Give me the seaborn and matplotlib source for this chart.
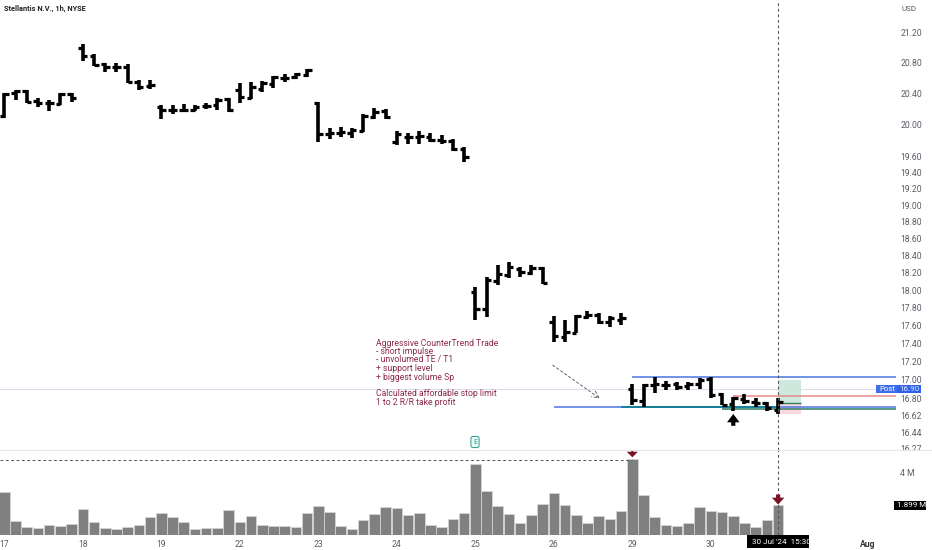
import numpy as np
import pandas as pd
import seaborn as sns
import matplotlib
matplotlib.use("Agg")
import matplotlib.pyplot as plt
from matplotlib.lines import Line2D
from matplotlib.patches import Rectangle

# hourly bars, 17 Jul - 30 Jul 2024
opens = [20.11, 20.40, 20.43, 20.30, 20.28, 20.26, 20.39,
         20.995, 20.89, 20.78, 20.74, 20.75, 20.55, 20.50,
         20.23, 20.19, 20.185, 20.185, 20.235, 20.25, 20.325,
         20.445, 20.345, 20.455, 20.52, 20.605, 20.61, 20.64,
         20.27, 19.88, 19.89, 19.89, 19.92, 20.10, 20.17,
         19.78, 19.845, 19.84, 19.845, 19.81, 19.79, 19.69,
         17.975, 17.79, 18.10, 18.175, 18.24, 18.20, 18.26,
         17.64, 17.475, 17.52, 17.69, 17.72, 17.64, 17.665,
         16.90, 16.775, 16.945, 16.945, 16.955, 16.93, 16.955,
         17.005, 16.845, 16.74, 16.79, 16.765, 16.75, 16.68]
highs = [20.40, 20.445, 20.445, 20.34, 20.31, 20.41, 20.40,
         21.05, 20.915, 20.80, 20.80, 20.78, 20.575, 20.575,
         20.25, 20.25, 20.26, 20.25, 20.28, 20.34, 20.34,
         20.53, 20.55, 20.565, 20.63, 20.65, 20.67, 20.72,
         20.29, 19.96, 19.97, 19.96, 20.13, 20.215, 20.195,
         19.92, 19.89, 19.92, 19.89, 19.87, 19.815, 19.71,
         18.03, 18.15, 18.29, 18.33, 18.265, 18.285, 18.27,
         17.71, 17.66, 17.72, 17.76, 17.74, 17.70, 17.735,
         16.955, 16.96, 17.03, 16.99, 16.975, 16.98, 17.025,
         17.03, 16.86, 16.82, 16.845, 16.80, 16.765, 16.80]
lows = [20.08, 20.31, 20.28, 20.23, 20.17, 20.25, 20.285,
        20.83, 20.76, 20.68, 20.68, 20.53, 20.445, 20.455,
        20.07, 20.14, 20.16, 20.17, 20.20, 20.19, 20.16,
        20.27, 20.33, 20.42, 20.475, 20.545, 20.585, 20.61,
        19.775, 19.815, 19.845, 19.83, 19.90, 20.065, 20.065,
        19.74, 19.75, 19.76, 19.775, 19.755, 19.665, 19.53,
        17.66, 17.69, 18.06, 18.14, 18.155, 18.175, 18.07,
        17.42, 17.41, 17.51, 17.67, 17.62, 17.58, 17.60,
        16.73, 16.705, 16.86, 16.89, 16.89, 16.89, 16.90,
        16.81, 16.725, 16.67, 16.74, 16.71, 16.67, 16.635]
closes = [20.39, 20.43, 20.29, 20.27, 20.27, 20.39, 20.34,
          20.89, 20.77, 20.74, 20.74, 20.55, 20.49, 20.51,
          20.185, 20.185, 20.19, 20.23, 20.235, 20.315, 20.18,
          20.36, 20.48, 20.53, 20.61, 20.605, 20.65, 20.70,
          19.88, 19.89, 19.90, 19.93, 20.11, 20.155, 20.09,
          19.88, 19.845, 19.855, 19.81, 19.79, 19.69, 19.595,
          17.79, 18.116, 18.19, 18.27, 18.21, 18.25, 18.085,
          17.48, 17.53, 17.70, 17.72, 17.64, 17.68, 17.68,
          16.785, 16.945, 16.955, 16.945, 16.925, 16.96, 16.998,
          16.84, 16.73, 16.80, 16.775, 16.755, 16.70, 16.76]
volumes = [2.77, .90, .49, .43, .62, .60, .68,
           1.64, .83, .47, .38, .49, .64, 1.13,
           1.43, 1.15, .85, .36, .47, .47, 1.58,
           .85, 1.24, .64, .58, .58, .53, 1.39,
           1.88, 1.45, .58, .41, .94, 1.36, 1.77,
           1.75, 1.28, 1.39, .64, .51, 1.02, 1.39,
           4.52, 2.81, 1.88, 1.32, .79, 1.30, 1.96,
           2.67, 1.90, 1.28, .79, 1.24, 1.04, 1.54,
           4.90, 2.56, 1.13, .64, .60, .77, 1.79,
           1.51, 1.45, 1.19, .77, .49, .94, 1.899]

price_ticks = [21.20, 20.80, 20.40, 20.00, 19.60, 19.40, 19.20, 19.00, 18.80, 18.60, 18.40,
               18.20, 18.00, 17.80, 17.60, 17.40, 17.20, 17.00, 16.80, 16.62, 16.44, 16.27]
day_ticks = [0, 7, 14, 21, 28, 35, 42, 49, 56, 63, 77]
day_labels = ["17", "18", "19", "22", "23", "24", "25", "26", "29", "30", "Aug"]

# drawn levels: price, first bar, colour
level_prices = [17.03, 16.71, 16.83, 16.685]
level_starts = [56, 49, 65, 64]
level_colors = ["#4a74e4", "#4a74e4", "#e58a8a", "#2f7d5f"]

notes = ["Aggressive CounterTrend Trade", "- short impulse", "- unvolumed TE / T1",
         "+ support level", "+ biggest volume Sp", "Calculated affordable stop limit",
         "1 to 2 R/R take profit"]
note_rows = [343, 351.5, 360, 368.5, 377, 394, 402.5]

sns.set_theme(style="white")
plt.rcParams['font.family'] = ['Roboto', 'DejaVu Sans']

W, H = 932, 550
fig = plt.figure(figsize=(W / 100, H / 100), dpi=100)
ax = fig.add_axes([0, 1 - 449.5 / H, 896 / W, 449.5 / H])
vol_ax = fig.add_axes([0, 1 - 535 / H, 896 / W, 85 / H])

df = pd.DataFrame({"bar": np.arange(len(volumes)), "open": opens, "high": highs,
                   "low": lows, "close": closes, "volume": volumes})

# price pane
xlim = (-0.383, 79.51)
ax.set_yscale("log")
ax.axhline(16.90, color="#dcdff0", lw=0.8, zorder=1)
ax.add_patch(Rectangle((69, 16.75), 2.04, 17.0 - 16.75, color="#cfe8de", lw=0, zorder=1))
ax.add_patch(Rectangle((69, 16.63), 2.04, 16.75 - 16.63, color="#f8d8dd", lw=0, zorder=1))
for p, s, c in zip(level_prices, level_starts, level_colors):
    ax.hlines(p, s, xlim[1], color=c, lw=1.1, zorder=2)
ax.hlines(16.71, 55, 69, color="#12808f", lw=1.3, zorder=2)
ax.hlines(16.75, 69, 71.04, color="#2f7d5f", lw=1.0, zorder=2)

ax.vlines(df["bar"], df["low"], df["high"], color="black", lw=2.6, zorder=3)
ax.hlines(df["open"], df["bar"] - 0.4, df["bar"], color="black", lw=2.3, zorder=3)
ax.hlines(df["close"], df["bar"], df["bar"] + 0.4, color="black", lw=2.3, zorder=3)
ax.axvline(69, color="#555555", lw=0.8, ls=(0, (2.5, 2.5)), zorder=4)

ax.annotate("", xy=(65, 16.635), xytext=(65, 16.51),
            arrowprops=dict(facecolor="black", edgecolor="none", width=3, headwidth=9, headlength=6, shrink=0))
ax.annotate("", xy=(53.1, 16.80), xytext=(48.9, 17.16),
            arrowprops=dict(arrowstyle="->", color="#666666", lw=0.7, ls=(0, (2.5, 2.5)), shrinkA=0, shrinkB=0))

ax.set_xlim(xlim)
ax.set_ylim(16.263, 21.65)
ax.yaxis.tick_right()
ax.set_yticks(price_ticks)
ax.set_yticklabels([f"{t:.2f}" for t in price_ticks])
ax.minorticks_off()
ax.tick_params(axis="y", length=0, pad=3, labelsize=6.2, labelcolor="#5a5d66")
ax.set_xticks([])
ax.set_xlabel("")
sns.despine(ax=ax, left=True, bottom=True, right=True, top=True)

# volume pane
sns.barplot(data=df, x="bar", y="volume", ax=vol_ax, native_scale=True, color="#808080",
            saturation=1, width=0.94, edgecolor="#d8d8d8", linewidth=0.5)
vol_ax.hlines(4.82, xlim[0], 56, color="#555555", lw=0.7, ls=(0, (3, 2.5)))
vol_ax.axvline(69, color="#555555", lw=0.8, ls=(0, (2.5, 2.5)), zorder=5)
for tip, tail, w, hw, hl in [(4.98, 5.44, 1.5, 8, 4), (1.95, 2.6, 3, 9, 5)]:
    x = 56 if tip > 4 else 69
    vol_ax.annotate("", xy=(x, tip), xytext=(x, tail),
                    arrowprops=dict(facecolor="#7a1226", edgecolor="none", width=w, headwidth=hw,
                                    headlength=hl, shrink=0), zorder=6)
vol_ax.set_xlim(xlim)
vol_ax.set_ylim(0, 5.449)
vol_ax.yaxis.tick_right()
vol_ax.set_yticks([4])
vol_ax.set_yticklabels(["4 M"])
vol_ax.set_xticks(day_ticks)
vol_ax.set_xticklabels(day_labels)
vol_ax.tick_params(axis="y", length=0, pad=3, labelsize=6.2, labelcolor="#5a5d66")
vol_ax.tick_params(axis="x", length=0, pad=3.5, labelsize=6.2, labelcolor="#5a5d66")
vol_ax.get_xticklabels()[-1].set_fontweight("bold")
vol_ax.get_xticklabels()[-1].set_color("#333333")
vol_ax.set_xlabel("")
vol_ax.set_ylabel("")
vol_ax.patch.set_alpha(0)
sns.despine(ax=vol_ax, left=True, bottom=True, right=True, top=True)


def label(x, y, s, **kw):
    fig.text(x / W, 1 - y / H, s, va="center", zorder=4, **kw)


def box(x0, y0, x1, y1, color):
    fig.add_artist(Rectangle((x0 / W, 1 - y1 / H), (x1 - x0) / W, (y1 - y0) / H, color=color, lw=0,
                             transform=fig.transFigure, zorder=3))


# the volume pane cuts off the lowest price label
box(896, 450, 932, 456, "white")
fig.add_artist(Line2D([0, 1], [1 - 449.5 / H] * 2, color="#e6e6e6", lw=0.8, zorder=3))

label(4, 8.5, "Stellantis N.V., 1h, NYSE", fontsize=5.3, color="#222222", fontweight="bold")
label(902, 9, "USD", fontsize=5.8, color="#5a5d66")
for row, note in zip(note_rows, notes):
    label(376, row, note, fontsize=6.2, color="#8a2a4a")

box(876, 385, 897, 393, "#3f6fe8")
box(897, 385, 921, 393, "#2f62e6")
box(894, 501, 926, 509.5, "black")
box(747, 535, 809, 547.5, "black")
label(879, 389, "Post", fontsize=5.6, color="white")
label(899.5, 389, "16.90", fontsize=5.8, color="#dfe6ff")
label(897, 505.2, "1.899 M", fontsize=5.8, color="white")
label(752, 541.5, "30 Jul '24  15:30", fontsize=5.9, color="white")
label(473, 442, "E", fontsize=5, color="#1f9d8a",
      bbox=dict(boxstyle="round,pad=0.3", facecolor="#eef9f6", edgecolor="#2a9d8f", lw=0.7))

fig.savefig("out.png", dpi=100)
